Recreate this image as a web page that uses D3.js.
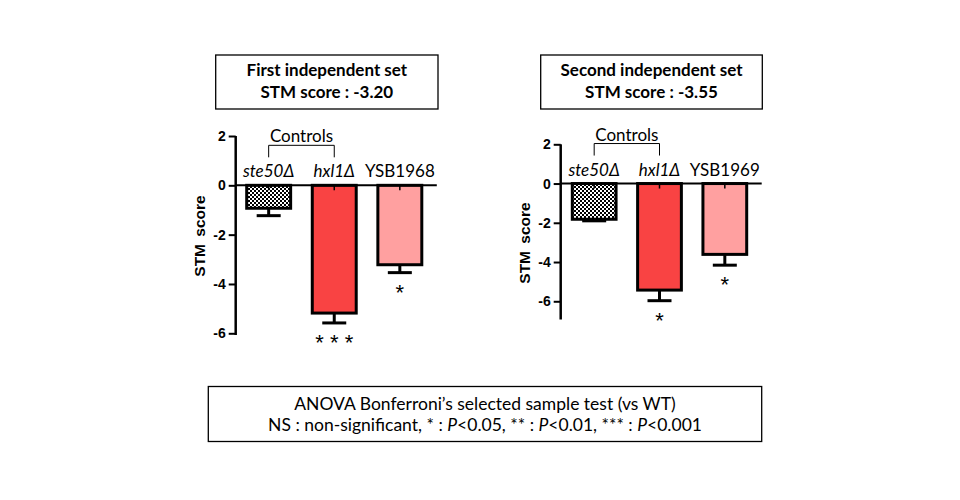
<!DOCTYPE html>
<html>
<head>
<meta charset="utf-8">
<script src="https://cdn.jsdelivr.net/npm/d3@7"></script>
<style>
	body { margin: 0; background: #fff; }
	svg { display: block; }
	.calibri { font-family: Lato, "Open Sans", sans-serif; }
	.arial { font-family: "Liberation Sans", Arial, sans-serif; }
</style>
</head>
<body>
<svg id="chart" width="960" height="500"></svg>
<script>
/* Data */
const categories1 = ['ste50Δ', 'hxl1Δ', 'YSB1968'];
const categories2 = ['ste50Δ', 'hxl1Δ', 'YSB1969'];
const means1 = [-0.93, -5.18, -3.22];
const errors1 = [0.30, 0.40, 0.32];
const means2 = [-1.82, -5.43, -3.61];
const errors2 = [0.08, 0.54, 0.55];
const stars1 = ['', '* * *', '*'];
const stars2 = ['', '*', '*'];
const italicLabel = [true, true, false];
const yTicks = [2, 0, -2, -4, -6];
const titles1 = ['First independent set', 'STM score : -3.20'];
const titles2 = ['Second independent set', 'STM score : -3.55'];
const noteLines = ['ANOVA Bonferroni’s selected sample test (vs WT)'];
const barFills = ['url(#checker)', '#f94343', '#ffa0a0'];

const svg = d3.select('#chart');

// checkered pattern for the first bar
const pat = svg.append('defs').append('pattern')
	.attr('id', 'checker')
	.attr('width', 4).attr('height', 4)
	.attr('patternUnits', 'userSpaceOnUse');
pat.append('rect').attr('width', 4).attr('height', 4).attr('fill', '#fff');
pat.append('rect').attr('width', 2).attr('height', 2).attr('fill', '#000');
pat.append('rect').attr('x', 2).attr('y', 2).attr('width', 2).attr('height', 2).attr('fill', '#000');

function drawPanel(opt) {
	const g = svg.append('g');
	const y = d3.scaleLinear().domain(opt.domain).range(opt.yRange);
	const x = d3.scaleBand().domain(opt.cats).range(opt.xRange).paddingInner(0.33).paddingOuter(0);

	// title box
	g.append('rect')
		.attr('x', opt.box[0]).attr('y', opt.box[1])
		.attr('width', opt.box[2]).attr('height', opt.box[3])
		.attr('fill', '#fff').attr('stroke', '#000').attr('stroke-width', 1.3);
	g.selectAll('.ttl').data(opt.titles).join('text')
		.attr('class', 'calibri')
		.attr('x', opt.box[0] + opt.box[2] / 2)
		.attr('y', (d, i) => opt.box[1] + 21 + i * 22)
		.attr('text-anchor', 'middle')
		.attr('font-size', 17).attr('font-weight', 'bold')
		.text(d => d);

	// bars
	const data = opt.cats.map((c, i) => ({ c: c, v: opt.means[i], e: opt.errs[i], s: opt.stars[i], i: i }));
	const bw = x.bandwidth();

	// error bars (drawn under bars so only lower part shows)
	g.selectAll('.err').data(data).join('line')
		.attr('x1', d => x(d.c) + bw / 2).attr('x2', d => x(d.c) + bw / 2)
		.attr('y1', d => y(d.v)).attr('y2', d => y(d.v - d.e))
		.attr('stroke', '#000').attr('stroke-width', 3);
	g.selectAll('.cap').data(data).join('line')
		.attr('x1', d => x(d.c) + bw / 2 - 12).attr('x2', d => x(d.c) + bw / 2 + 12)
		.attr('y1', d => y(d.v - d.e)).attr('y2', d => y(d.v - d.e))
		.attr('stroke', '#000').attr('stroke-width', 3);

	g.selectAll('.bar').data(data).join('rect')
		.attr('x', d => x(d.c)).attr('width', bw)
		.attr('y', y(0)).attr('height', d => y(d.v) - y(0))
		.attr('fill', d => barFills[d.i])
		.attr('stroke', '#000').attr('stroke-width', 3);

	// small stub under the zero line
	g.selectAll('.stub').data(data).join('line')
		.attr('x1', d => x(d.c) + bw / 2).attr('x2', d => x(d.c) + bw / 2)
		.attr('y1', y(0)).attr('y2', y(0) + 5)
		.attr('stroke', '#000').attr('stroke-width', 1.5);

	// zero line
	g.append('line')
		.attr('x1', opt.axisX).attr('x2', opt.xRange[1] + 15)
		.attr('y1', y(0)).attr('y2', y(0))
		.attr('stroke', '#000').attr('stroke-width', 2);

	// y axis
	const axis = g.append('g')
		.attr('transform', `translate(${opt.axisX},0)`)
		.call(d3.axisLeft(y).tickValues(yTicks).tickSize(7).tickPadding(3).tickFormat(d => String(d)));
	axis.select('.domain').remove();
	axis.append('line')
		.attr('y1', y(opt.domain[1])).attr('y2', opt.axisBottom)
		.attr('stroke', '#000').attr('stroke-width', 2.5);
	axis.selectAll('.tick line').attr('stroke-width', 2);
	axis.selectAll('.tick text')
		.attr('class', 'arial')
		.attr('font-size', 14).attr('font-weight', 'bold').attr('fill', '#000');

	g.append('text')
		.attr('class', 'arial')
		.attr('transform', `translate(${opt.axisX - 31},${opt.labelY}) rotate(-90)`)
		.attr('text-anchor', 'middle')
		.attr('font-size', 15.5).attr('font-weight', 'bold')
		.attr('word-spacing', 3)
		.text('STM score');

	// category labels
	g.selectAll('.cat').data(data).join('text')
		.attr('class', 'calibri')
		.attr('x', d => x(d.c) + bw / 2)
		.attr('y', y(0) - 8)
		.attr('text-anchor', 'middle')
		.attr('font-size', 17)
		.attr('font-style', d => italicLabel[d.i] ? 'italic' : 'normal')
		.text(d => d.c);

	// stars
	g.selectAll('.star').data(data).join('text')
		.attr('class', 'arial')
		.attr('x', d => x(d.c) + bw / 2)
		.attr('y', d => y(d.v - d.e) + 27)
		.attr('text-anchor', 'middle')
		.attr('font-size', 22)
		.text(d => d.s);

	// controls bracket
	const c0 = x(opt.cats[0]) + bw / 2, c1 = x(opt.cats[1]) + bw / 2;
	const bTop = y(0) - 40, bBot = y(0) - 28;
	g.append('path')
		.attr('d', `M${c0},${bBot}V${bTop}H${c1}V${bBot}`)
		.attr('fill', 'none').attr('stroke', '#000').attr('stroke-width', 1);
	g.append('text')
		.attr('class', 'calibri')
		.attr('x', (c0 + c1) / 2).attr('y', bTop - 3)
		.attr('text-anchor', 'middle')
		.attr('font-size', 17)
		.text('Controls');
}

drawPanel({
	cats: categories1, means: means1, errs: errors1, stars: stars1, titles: titles1,
	domain: [-6, 2], yRange: [333.3, 136], xRange: [246.7, 421.8],
	axisX: 235.7, axisBottom: 335, labelY: 236,
	box: [215.7, 55, 222.3, 54]
});
drawPanel({
	cats: categories2, means: means2, errs: errors2, stars: stars2, titles: titles2,
	domain: [-7, 2], yRange: [320.9, 144.3], xRange: [572.3, 746.7],
	axisX: 560.7, axisBottom: 319.5, labelY: 243,
	box: [540.7, 55, 221.6, 54]
});

// bottom note
svg.append('rect')
	.attr('x', 208.3).attr('y', 386.5).attr('width', 553.4).attr('height', 55)
	.attr('fill', '#fff').attr('stroke', '#000').attr('stroke-width', 1.3);
svg.append('text')
	.attr('class', 'calibri')
	.attr('x', 485).attr('y', 409.5)
	.attr('text-anchor', 'middle').attr('font-size', 17.5)
	.text(noteLines[0]);
const line2 = svg.append('text')
	.attr('class', 'calibri')
	.attr('x', 485).attr('y', 431)
	.attr('text-anchor', 'middle').attr('font-size', 17.5);
[['NS : non-significant, * : ', false], ['P', true], ['<0.05, ** : ', false], ['P', true],
 ['<0.01, *** : ', false], ['P', true], ['<0.001', false]].forEach(p => {
	line2.append('tspan').attr('font-style', p[1] ? 'italic' : 'normal').text(p[0]);
});
</script>
</body>
</html>
